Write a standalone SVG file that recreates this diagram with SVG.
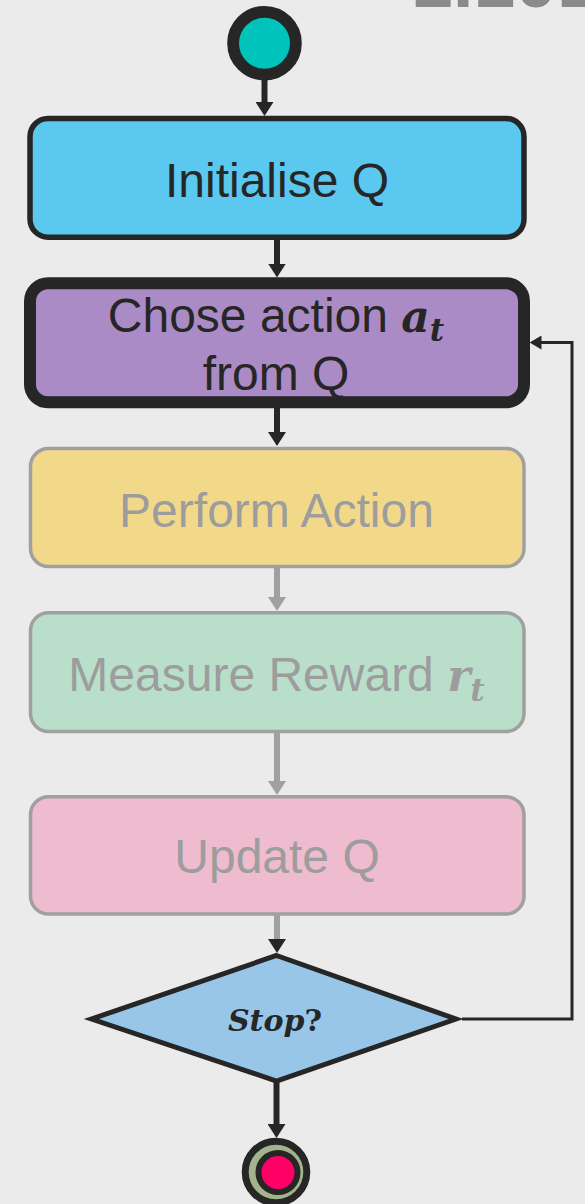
<svg xmlns="http://www.w3.org/2000/svg" width="585" height="1204" viewBox="0 0 585 1204">
  <defs>
    <style>
      .bg { fill: #ebebeb; }
      .box-dark { stroke: #262626; stroke-width: 5.5; }
      .box-gray { stroke: #a0a0a0; stroke-width: 3.5; }
      .lbl { font-family: "Liberation Sans", Arial, sans-serif; font-size: 48px; text-anchor: middle; }
      .lbl-dark { fill: #262626; }
      .lbl-gray { fill: #9d9d9d; }
      .math { font-family: "DejaVu Serif", "Liberation Serif", serif; font-style: italic; font-weight: bold; }
      .conn-dark { stroke: #262626; stroke-width: 6; fill: none; }
      .conn-gray { stroke: #a0a0a0; stroke-width: 6; fill: none; }
      .conn-thin { stroke: #262626; stroke-width: 3; fill: none; }
    </style>
    <marker id="ah-dark" markerUnits="userSpaceOnUse" markerWidth="14" markerHeight="18" refX="4" refY="9" orient="auto">
      <path d="M0,0 L14,9 L0,18 z" fill="#262626"/>
    </marker>
    <marker id="ah-gray" markerUnits="userSpaceOnUse" markerWidth="14" markerHeight="18" refX="4" refY="9" orient="auto">
      <path d="M0,0 L14,9 L0,18 z" fill="#a0a0a0"/>
    </marker>
    <marker id="ah-thin" markerUnits="userSpaceOnUse" markerWidth="12" markerHeight="14" refX="2" refY="7" orient="auto">
      <path d="M0,0 L12,7 L0,14 z" fill="#262626"/>
    </marker>
  </defs>

  <rect class="bg" x="0" y="0" width="585" height="1204"/>

  <text x="411" y="7" font-family="'Liberation Sans', Arial, sans-serif" font-weight="bold" font-size="75" fill="#8a8a8a">1.101</text>

  <g id="connectors">
    <line class="conn-dark" x1="264.5" y1="79" x2="264.5" y2="106" marker-end="url(#ah-dark)"/>
    <line class="conn-dark" x1="277" y1="240" x2="277" y2="267.5" marker-end="url(#ah-dark)"/>
    <line class="conn-dark" x1="277" y1="407" x2="277" y2="436" marker-end="url(#ah-dark)"/>
    <line class="conn-gray" x1="277" y1="568" x2="277" y2="601" marker-end="url(#ah-gray)"/>
    <line class="conn-gray" x1="277" y1="733" x2="277" y2="785" marker-end="url(#ah-gray)"/>
    <line class="conn-gray" x1="277" y1="915" x2="277" y2="943" marker-end="url(#ah-dark)"/>
    <line class="conn-dark" x1="276.5" y1="1082" x2="276.5" y2="1128" marker-end="url(#ah-dark)"/>
    <path class="conn-thin" d="M462,1019 H572 V342.5 H539.5" marker-end="url(#ah-thin)"/>
  </g>

  <g id="start">
    <circle cx="264.5" cy="43.2" r="31.4" fill="#00c4bc" stroke="#262626" stroke-width="11.8"/>
  </g>

  <g id="initialise-q">
    <rect class="box-dark" x="30" y="118.5" width="494" height="118.7" rx="18" fill="#5bc8ef"/>
    <text class="lbl lbl-dark" x="277" y="197">Initialise Q</text>
  </g>

  <g id="chose-action">
    <rect x="30" y="283.3" width="494" height="119" rx="18" fill="#ab8bc5" stroke="#262626" stroke-width="12"/>
    <text class="lbl lbl-dark" x="276" y="332">Chose action <tspan class="math" font-size="44">a</tspan><tspan class="math" font-size="31" dy="9">t</tspan></text>
    <text class="lbl lbl-dark" x="276" y="390">from Q</text>
  </g>

  <g id="perform-action">
    <rect class="box-gray" x="30.5" y="448.5" width="493.5" height="118" rx="18" fill="#f2d98a"/>
    <text class="lbl lbl-gray" x="276.5" y="527">Perform Action</text>
  </g>

  <g id="measure-reward">
    <rect class="box-gray" x="30.5" y="612.8" width="493.5" height="118.7" rx="18" fill="#b9dfcb"/>
    <text class="lbl lbl-gray" x="276.5" y="691">Measure Reward <tspan class="math" font-size="44">r</tspan><tspan class="math" font-size="31" dy="10">t</tspan></text>
  </g>

  <g id="update-q">
    <rect class="box-gray" x="30.5" y="796.8" width="493.5" height="117.2" rx="18" fill="#efbbcf"/>
    <text class="lbl lbl-gray" x="277" y="873">Update Q</text>
  </g>

  <g id="stop-decision">
    <polygon points="276.5,955.5 456,1019 276.5,1081 91.5,1019" fill="#98c6e8" stroke="#262626" stroke-width="5" stroke-linejoin="miter"/>
    <text x="275" y="1031" font-family="'DejaVu Serif', 'Liberation Serif', serif" font-size="30" font-weight="bold" fill="#262626" text-anchor="middle"><tspan font-style="italic">Stop</tspan>?</text>
  </g>

  <g id="end">
    <circle cx="276" cy="1172" r="30.8" fill="#a3b38b" stroke="#262626" stroke-width="7"/>
    <circle cx="278" cy="1172.5" r="19.5" fill="#ff0066" stroke="#262626" stroke-width="6"/>
  </g>
</svg>
